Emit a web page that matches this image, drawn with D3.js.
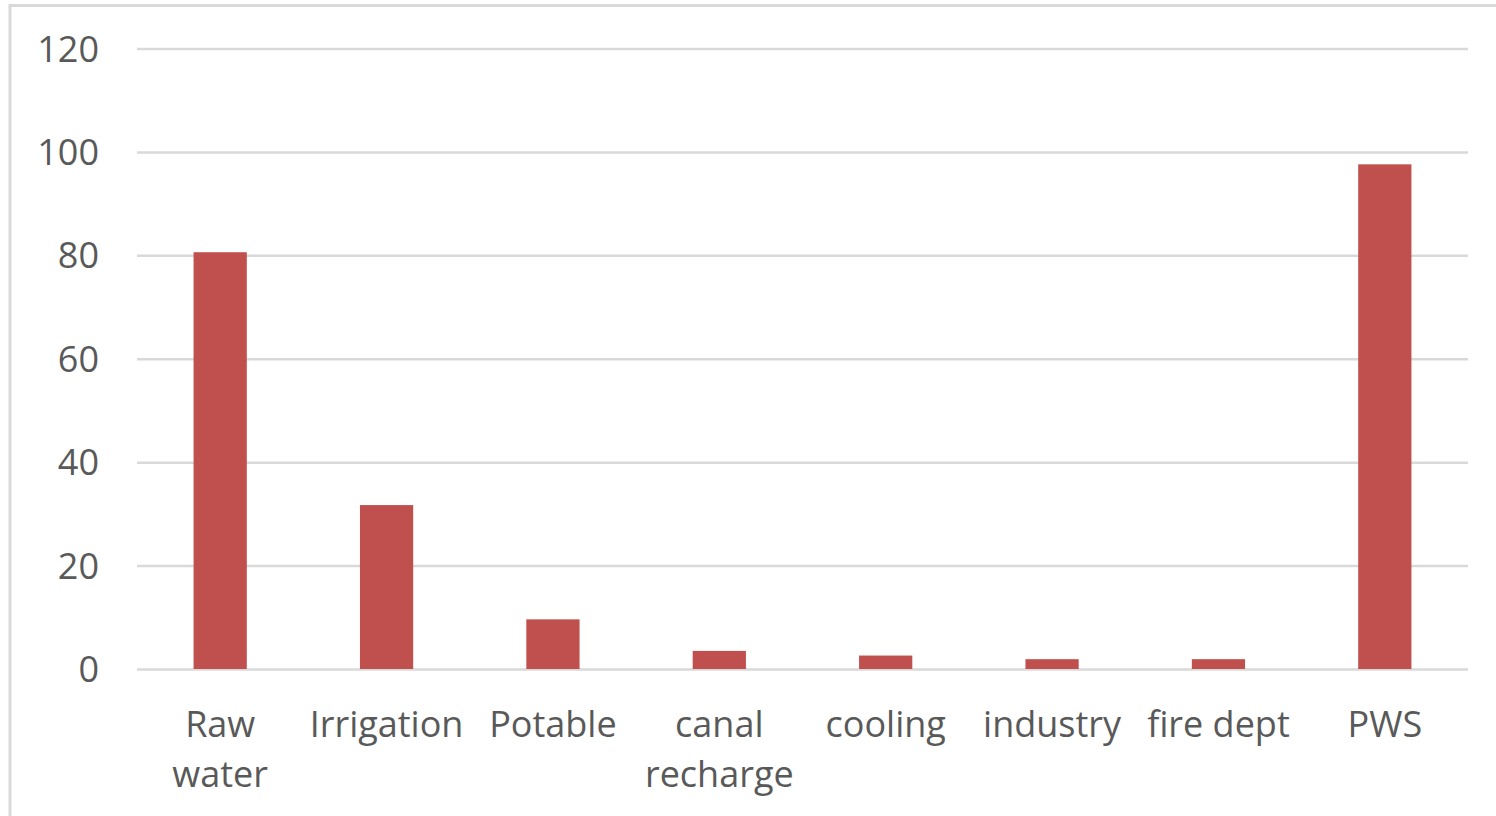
<!DOCTYPE html>
<html>
<head>
<meta charset="utf-8">
<script src="https://cdn.jsdelivr.net/npm/d3@7"></script>
<style>
  html, body { margin: 0; padding: 0; background: #fff; }
  svg { display: block; }
  text { font-family: "Open Sans", "Noto Sans", sans-serif; fill: #595959; }
</style>
</head>
<body>
<svg id="chart" width="1496" height="816"></svg>
<script>
// Water use by category
const categories = [["Raw", "water"], ["Irrigation"], ["Potable"], ["canal", "recharge"], ["cooling"], ["industry"], ["fire dept"], ["PWS"]];
const values = [80.6, 31.7, 9.6, 3.5, 2.6, 1.9, 1.9, 97.6];
const yTicks = [0, 20, 40, 60, 80, 100, 120];

const svg = d3.select("#chart");
const W = 1496, H = 816;

// chart area frame
svg.append("rect")
  .attr("x", 10).attr("y", 5.5)
  .attr("width", W + 10).attr("height", H + 10)
  .attr("fill", "#fff")
  .attr("stroke", "#d9d9d9")
  .attr("stroke-width", 3);

const plot = { left: 137, right: 1468, top: 48.5, bottom: 669 };

const x = d3.scaleBand()
  .domain(d3.range(categories.length))
  .range([plot.left, plot.right])
  .paddingInner(0.68)
  .paddingOuter(0.34);

const y = d3.scaleLinear()
  .domain([0, 120])
  .range([plot.bottom, plot.top]);

// gridlines
const yAxis = d3.axisLeft(y).tickValues(yTicks).tickSize(-(plot.right - plot.left)).tickPadding(38);
const gy = svg.append("g")
  .attr("transform", `translate(${plot.left},0)`)
  .call(yAxis);
gy.select(".domain").remove();
gy.selectAll(".tick line").attr("stroke", "#d9d9d9").attr("stroke-width", 2.5);
gy.selectAll(".tick text")
  .attr("font-size", 36)
  .attr("dy", "0.35em")
  .style("font-family", "'Open Sans', sans-serif")
  .attr("fill", "#595959");

// bars
svg.append("g").selectAll("rect")
  .data(values)
  .join("rect")
  .attr("x", (d, i) => x(i))
  .attr("width", x.bandwidth())
  .attr("y", d => y(d))
  .attr("height", d => y(0) - y(d))
  .attr("fill", "#c0504d");

// category labels
const labels = svg.append("g").selectAll("text")
  .data(categories)
  .join("text")
  .attr("text-anchor", "middle")
  .attr("font-size", 36)
  .attr("x", (d, i) => x(i) + x.bandwidth() / 2)
  .attr("y", 737);
labels.selectAll("tspan")
  .data(d => d)
  .join("tspan")
  .attr("x", function () { return d3.select(this.parentNode).attr("x"); })
  .attr("dy", (d, i) => i === 0 ? 0 : 50)
  .text(d => d);
</script>
</body>
</html>
